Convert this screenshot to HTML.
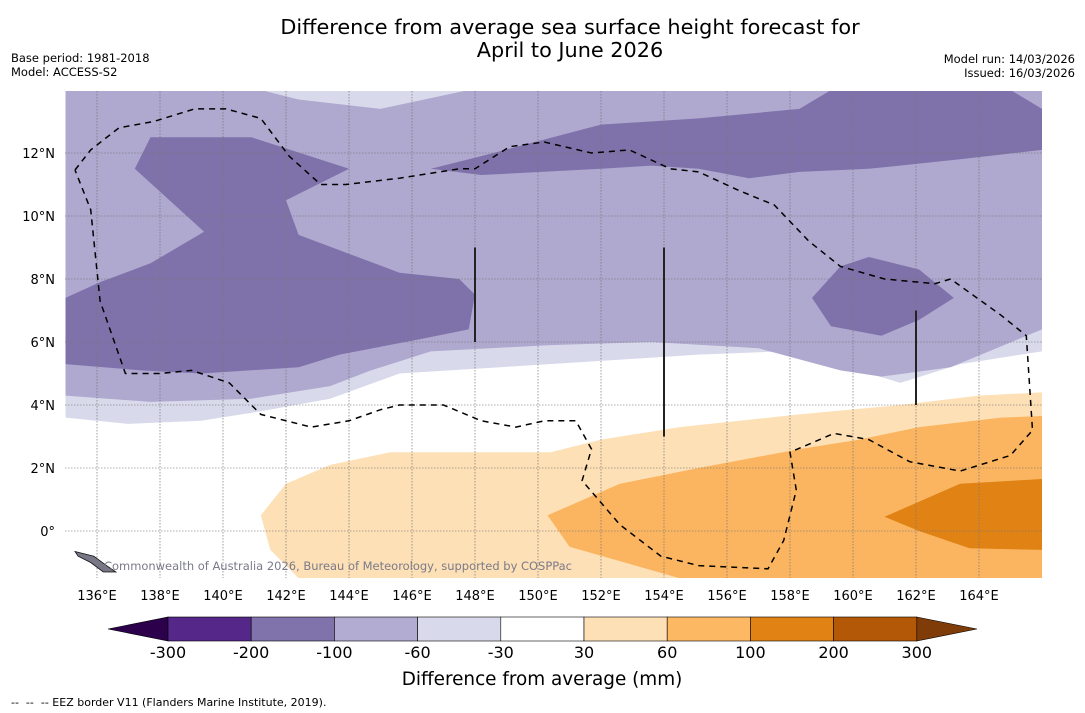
<!DOCTYPE html>
<html><head><meta charset="utf-8"><style>
body{margin:0;background:#fff;font-family:"Liberation Sans","DejaVu Sans",sans-serif;}
svg{display:block}
text{font-family:"DejaVu Sans","Liberation Sans",sans-serif;white-space:pre;}
</style></head><body>
<svg id="chart" width="1085" height="713" viewBox="0 0 1085 713" xmlns="http://www.w3.org/2000/svg">
<defs><clipPath id="mapclip"><rect x="65" y="91" width="977" height="487"/></clipPath></defs>
<text x="570" y="34" text-anchor="middle" font-size="20.8">Difference from average sea surface height forecast for</text>
<text x="570" y="57" text-anchor="middle" font-size="20.8">April to June 2026</text>
<text x="11" y="62" font-size="11.5">Base period: 1981-2018</text>
<text x="11" y="76" font-size="11.5">Model: ACCESS-S2</text>
<text x="1075" y="63" text-anchor="end" font-size="11.5">Model run: 14/03/2026</text>
<text x="1075" y="77" text-anchor="end" font-size="11.5">Issued: 16/03/2026</text>
<g id="map" clip-path="url(#mapclip)"></g>
<g id="axes"></g>
<g id="cbar"></g>
<text x="542" y="685" text-anchor="middle" font-size="18.4">Difference from average (mm)</text>
<text x="11" y="706" font-size="11">--  --  -- EEZ border V11 (Flanders Marine Institute, 2019).</text>
</svg>
<script>
const lonTicks=[136,138,140,142,144,146,148,150,152,154,156,158,160,162,164];
const latTicks=[0,2,4,6,8,10,12];
const cbarLabels=["-300","-200","-100","-60","-30","30","60","100","200","300"];
const cbarColors=["#542788","#8073ac","#b2abd2","#d8daeb","#ffffff","#fee0b6","#fdb863","#e08214","#b35806"];
const lavenderBand=[[135,14],[166,14],[166,5.7],[163.4,5.3],[161.5,4.7],[159.9,5.2],[157.7,5.7],[155.1,5.6],[152,5.4],[148.8,5.2],[145.6,5.0],[143.4,4.2],[141.2,3.8],[139.3,3.5],[137,3.4],[135,3.6]];
const lightPurple=[[135,14],[166,14],[166,6.4],[163.1,5.2],[160.9,4.9],[159.6,5.1],[157,5.8],[153.6,6.0],[150.4,5.9],[146.6,5.7],[144.7,5.1],[143.4,4.6],[140.9,4.2],[137.7,4.1],[135,4.3]];
const topStrip=[[141.2,14],[142.4,13.7],[145,13.4],[147.8,14]];
const darkA=[[135,7.4],[136.1,7.9],[137.7,8.5],[139.4,9.5],[137.2,11.5],[137.7,12.5],[140.9,12.5],[144,11.5],[142,10.5],[142.4,9.4],[145.6,8.2],[147.5,8.0],[148,7.5],[147.8,6.4],[146.3,6.1],[143.7,5.6],[142.4,5.2],[139.3,5.0],[137.4,5.1],[135,5.3]];
const darkB=[[146.6,11.5],[148.2,11.9],[150.1,12.4],[152,12.9],[155.1,13.1],[158.3,13.4],[159.3,14],[165,14],[166,13.4],[166,12.1],[163.4,11.8],[160.5,11.5],[158.3,11.4],[156.7,11.2],[155.1,11.5],[153.6,11.6],[152,11.5],[150.1,11.4],[148.2,11.3]];
const darkC=[[158.7,7.4],[159.6,8.4],[160.5,8.7],[162.1,8.3],[163.2,7.4],[162.1,6.7],[160.9,6.2],[159.3,6.5]];
const topRight=[[165,14],[166,14],[166,13.4]];
const orangeLight=[[141.2,0.5],[142,1.5],[143.4,2.1],[145.3,2.5],[150.4,2.5],[152,2.9],[154.5,3.3],[158.3,3.7],[161.5,4.0],[164,4.3],[166,4.4],[166,-1.5],[142.4,-1.5],[141.5,-0.6]];
const orangeMid=[[150.3,0.5],[152.6,1.5],[155.1,2.0],[158.3,2.6],[160.2,2.9],[162.1,3.3],[164.7,3.6],[166,3.65],[166,-1.5],[154.5,-1.5],[151,-0.5]];
const orangeDark=[[161,0.45],[163.4,1.5],[166,1.65],[166,-0.6],[163.7,-0.55],[162.1,0]];
const eez=[[135.3,11.46],[135.8,12.1],[136.7,12.8],[137.8,13.0],[139.1,13.4],[140.1,13.4],[141.2,13.1],[142.1,11.9],[143.1,11.0],[143.9,11.0],[145.6,11.2],[147.5,11.5],[148,11.5],[149.1,12.2],[150.2,12.35],[151.7,12.0],[152.9,12.1],[154.2,11.5],[155.1,11.4],[156.4,10.8],[157.5,10.35],[158.6,9.2],[159.6,8.4],[161,8.0],[162.6,7.85],[163.1,8.0],[164.7,6.85],[165.5,6.2],[165.7,3.2],[165,2.4],[163.4,1.9],[161.8,2.2],[160.5,2.9],[159.4,3.1],[158,2.5],[158.2,1.3],[157.8,-0.3],[157.3,-1.2],[155.1,-1.1],[153.9,-0.8],[152.6,0.2],[151.4,1.6],[151.7,2.6],[151.2,3.5],[150.2,3.5],[149.3,3.3],[148.2,3.5],[147,4.0],[145.6,4.0],[145,3.85],[144,3.5],[142.8,3.3],[141.2,3.7],[140.2,4.7],[139,5.1],[138,5.0],[136.9,5.0],[136.1,7.3],[135.8,10.2],[135.3,11.46]];
const borderLines=[[148,6.0,9.0],[154,3.0,9.0],[162,4.0,7.0]];
const island=[[135.3,-0.65],[135.9,-0.8],[136.3,-1.1],[136.6,-1.3],[136.2,-1.3],[135.8,-1.0],[135.4,-0.8]];

const NS="http://www.w3.org/2000/svg";
const X=lon=>97+(lon-136)*31.5;
const Y=lat=>531-lat*31.5;
const map=document.getElementById('map'),axes=document.getElementById('axes'),cbar=document.getElementById('cbar');
function mk(tag,attrs,parent){const e=document.createElementNS(NS,tag);for(const k in attrs)e.setAttribute(k,attrs[k]);parent.appendChild(e);return e;}
const pts=a=>a.map(p=>X(p[0]).toFixed(1)+','+Y(p[1]).toFixed(1)).join(' ');
let bg=mk('rect',{x:65,y:91,width:977,height:487,fill:'#ffffff'},map);


const layers=[[lavenderBand,'#d8daeb','band-minus30-60'],[lightPurple,'#afa8cf','band-minus60-100'],[topStrip,'#d8daeb','top-strip-minus30'],[topRight,'#afa8cf','top-right-minus60'],[darkA,'#7f72aa','west-region-minus100'],[darkB,'#7f72aa','north-region-minus100'],[darkC,'#7f72aa','east-blob-minus100'],[orangeLight,'#fee0b6','band-30-60'],[orangeMid,'#fbb560','band-60-100'],[orangeDark,'#e08214','band-100-200']];
layers.forEach(l=>{const p=mk('polygon',{points:pts(l[0]),fill:l[1]},map);

});
lonTicks.forEach(t=>{const g=mk('line',{x1:X(t),x2:X(t),y1:91,y2:578,stroke:'#777',"stroke-width":0.9,"stroke-dasharray":"1.5,1.5",opacity:0.8},map);


const tx=mk('text',{x:X(t),y:600,"text-anchor":"middle","font-size":13},axes);tx.textContent=t+'°E';

});
latTicks.forEach(t=>{const g=mk('line',{x1:65,x2:1042,y1:Y(t),y2:Y(t),stroke:'#777',"stroke-width":0.8,"stroke-dasharray":"1.5,1.5",opacity:0.8},map);


const tx=mk('text',{x:55,y:Y(t)+5,"text-anchor":"end","font-size":13},axes);tx.textContent=t===0?'0°':t+'°N';

});
borderLines.forEach(b=>{const l=mk('line',{x1:X(b[0]),x2:X(b[0]),y1:Y(b[2]),y2:Y(b[1]),stroke:'#222',"stroke-width":2},map);

});
const e=mk('polyline',{points:pts(eez),fill:'none',stroke:'#000',"stroke-width":1.5,"stroke-dasharray":"6,5"},map);


const isl=mk('polygon',{points:pts(island),fill:'#777785',stroke:'#111',"stroke-width":0.8},map);


const wm=mk('text',{x:104,y:570,"font-size":11.5,fill:'#7a7a8a',textLength:468,lengthAdjust:'spacingAndGlyphs'},map);wm.textContent='Commonwealth of Australia 2026, Bureau of Meteorology, supported by COSPPac';


const cx0=168,cw=83.2,cy=617,ch=24;
const lt=mk('polygon',{points:`108,${cy+ch/2} ${cx0},${cy} ${cx0},${cy+ch}`,fill:'#2d004b',stroke:'#000',"stroke-width":0.6},cbar);


cbarColors.forEach((c,i)=>{const r=mk('rect',{x:cx0+i*cw,y:cy,width:cw,height:ch,fill:c,stroke:'#000',"stroke-width":0.6},cbar);

});
const xe=cx0+cbarColors.length*cw;
const rt=mk('polygon',{points:`${xe},${cy} 977,${cy+ch/2} ${xe},${cy+ch}`,fill:'#7f3b08',stroke:'#000',"stroke-width":0.6},cbar);


cbarLabels.forEach((s,i)=>{const t=mk('text',{x:cx0+i*cw,y:658,"text-anchor":"middle","font-size":16},cbar);t.textContent=s;

});
</script>
</body></html>
